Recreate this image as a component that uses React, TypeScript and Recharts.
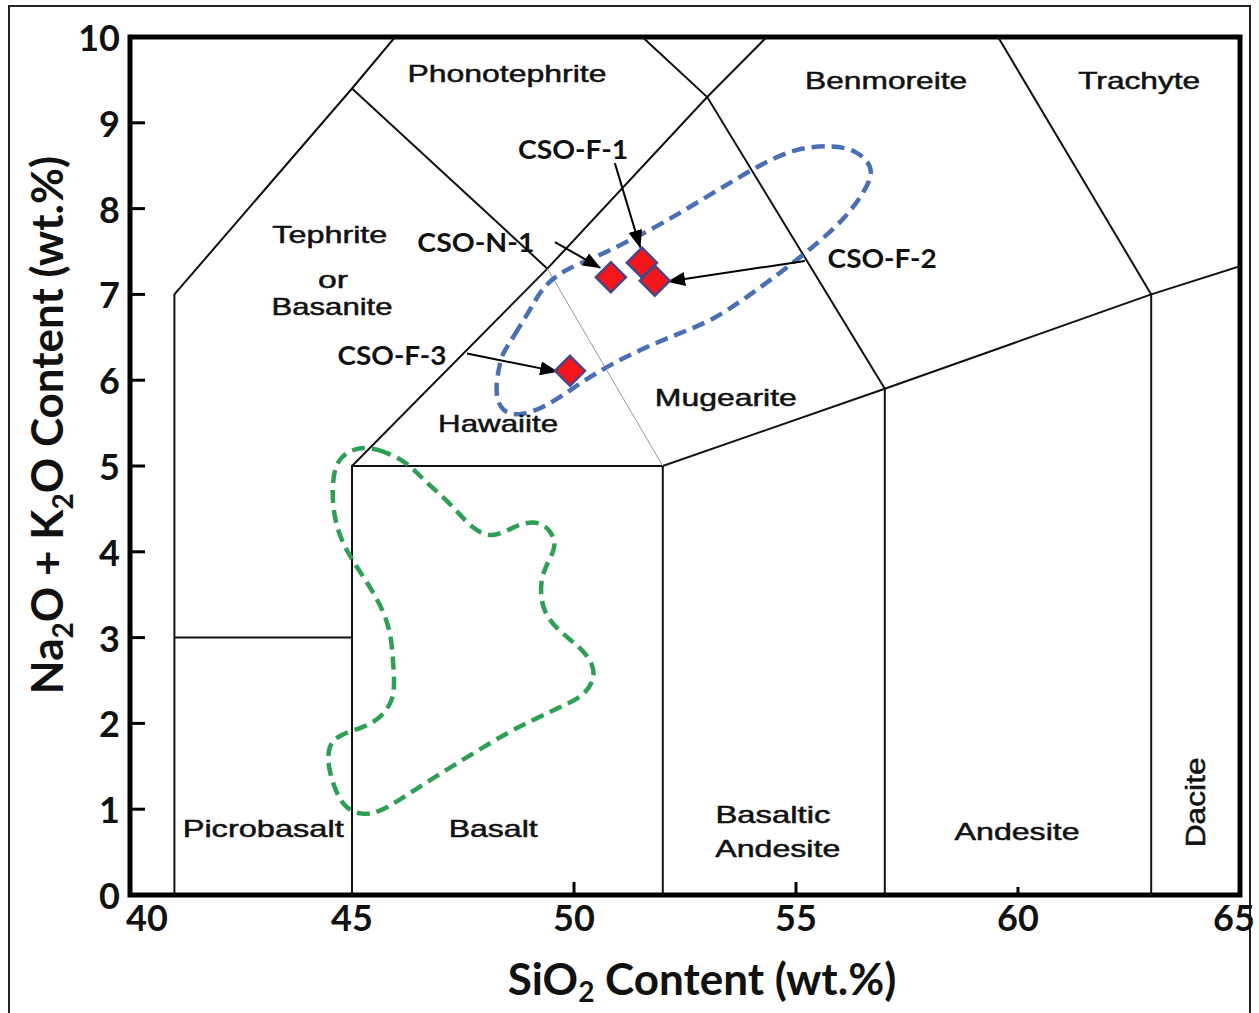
import React from 'react';
import { ComposedChart, XAxis, YAxis, Line, Scatter, ReferenceArea } from 'recharts';

// ---------- axes ----------
const xTicks = [40, 45, 50, 55, 60, 65];
const yTicks = [0, 1, 2, 3, 4, 5, 6, 7, 8, 9, 10];

// ---------- TAS field boundaries (SiO2 wt.%, Na2O+K2O wt.%) ----------
const bndPicroTephrite = [{ x: 41, y: 0 }, { x: 41, y: 7 }, { x: 45, y: 9.4 }, { x: 45.97, y: 10 }];
const bndPicroShelf = [{ x: 41, y: 3 }, { x: 45, y: 3 }];
const bndBasaltTop = [{ x: 45, y: 0 }, { x: 45, y: 5 }, { x: 52, y: 5 }, { x: 57, y: 5.9 }, { x: 63, y: 7 }, { x: 65, y: 7.33 }];
const bndBasaltRight = [{ x: 52, y: 0 }, { x: 52, y: 5 }];
const bndAndesiteRight = [{ x: 57, y: 0 }, { x: 57, y: 5.9 }];
const bndDaciteLeft = [{ x: 63, y: 0 }, { x: 63, y: 7 }];
const bndAlkaline = [{ x: 45, y: 5 }, { x: 49.4, y: 7.3 }, { x: 53, y: 9.3 }, { x: 54.34, y: 10 }];
const bndPhonotephrite = [{ x: 45, y: 9.4 }, { x: 49.4, y: 7.3 }];
const bndHawaiite = [{ x: 49.4, y: 7.3 }, { x: 52, y: 5 }];
const bndBenmoreite = [{ x: 51.54, y: 10 }, { x: 53, y: 9.3 }, { x: 57, y: 5.9 }];
const bndTrachyte = [{ x: 59.55, y: 10 }, { x: 63, y: 7 }];

// ---------- dashed compositional fields ----------
const blueField = [
  { x: 48.40, y: 6.32 }, { x: 48.63, y: 6.50 }, { x: 49.01, y: 6.82 }, { x: 49.30, y: 7.09 },
  { x: 49.75, y: 7.28 }, { x: 50.52, y: 7.44 }, { x: 51.26, y: 7.63 }, { x: 52.00, y: 7.83 },
  { x: 52.77, y: 8.07 }, { x: 53.51, y: 8.30 }, { x: 54.26, y: 8.53 }, { x: 55.02, y: 8.71 },
  { x: 55.83, y: 8.74 }, { x: 56.37, y: 8.68 }, { x: 56.73, y: 8.49 }, { x: 56.67, y: 8.30 },
  { x: 56.15, y: 7.90 }, { x: 55.38, y: 7.55 }, { x: 54.64, y: 7.25 }, { x: 53.90, y: 6.97 },
  { x: 53.13, y: 6.70 }, { x: 52.39, y: 6.55 }, { x: 51.64, y: 6.39 }, { x: 50.88, y: 6.20 },
  { x: 50.14, y: 5.97 }, { x: 49.39, y: 5.69 }, { x: 48.72, y: 5.57 }, { x: 48.33, y: 5.65 },
  { x: 48.22, y: 5.89 }, { x: 48.33, y: 6.20 },
];
const greenField = [
  { x: 45.11, y: 5.22 }, { x: 45.56, y: 5.21 }, { x: 46.24, y: 5.05 }, { x: 46.60, y: 4.84 },
  { x: 47.21, y: 4.57 }, { x: 47.73, y: 4.25 }, { x: 48.18, y: 4.16 }, { x: 48.63, y: 4.29 },
  { x: 49.08, y: 4.37 }, { x: 49.46, y: 4.28 }, { x: 49.62, y: 4.06 }, { x: 49.39, y: 3.87 },
  { x: 49.23, y: 3.64 }, { x: 49.28, y: 3.32 }, { x: 49.62, y: 3.09 }, { x: 50.14, y: 2.89 },
  { x: 50.43, y: 2.70 }, { x: 50.47, y: 2.51 }, { x: 50.20, y: 2.31 }, { x: 49.68, y: 2.19 },
  { x: 49.08, y: 2.04 }, { x: 48.49, y: 1.89 }, { x: 47.66, y: 1.63 }, { x: 46.76, y: 1.34 },
  { x: 46.08, y: 1.11 }, { x: 45.59, y: 0.96 }, { x: 45.23, y: 0.93 }, { x: 44.84, y: 1.01 },
  { x: 44.62, y: 1.22 }, { x: 44.46, y: 1.49 }, { x: 44.46, y: 1.75 }, { x: 44.73, y: 1.87 },
  { x: 45.23, y: 1.95 }, { x: 45.59, y: 2.04 }, { x: 45.86, y: 2.21 }, { x: 45.97, y: 2.39 },
  { x: 45.92, y: 2.77 }, { x: 45.86, y: 3.12 }, { x: 45.56, y: 3.47 }, { x: 45.11, y: 3.82 },
  { x: 44.73, y: 4.14 }, { x: 44.55, y: 4.52 }, { x: 44.57, y: 4.92 }, { x: 44.73, y: 5.11 },
];

// ---------- samples ----------
const sampleNames = ['CSO-N-1', 'CSO-F-1', 'CSO-F-2', 'CSO-F-3'];
const sampleSiO2 = [50.83, 51.53, 51.82, 49.91];
const sampleAlkali = [7.20, 7.37, 7.16, 6.11];
const samples = sampleNames.map((n, i) => ({ name: n, x: sampleSiO2[i], y: sampleAlkali[i] }));

// sample label anchors (SiO2, alkali) and arrows (from label to sample)
const sampleLabelX = [47.79, 49.98, 56.94, 45.90];
const sampleLabelY = [7.49, 8.58, 7.31, 6.18];
const sampleLabels = sampleNames.map((n, i) => ({ text: n, x: sampleLabelX[i], y: sampleLabelY[i] }));
const arrowN1 = [{ x: 49.57, y: 7.61 }, { x: 50.59, y: 7.31 }];
const arrowF1 = [{ x: 50.92, y: 8.53 }, { x: 51.49, y: 7.55 }];
const arrowF2 = [{ x: 55.20, y: 7.39 }, { x: 52.12, y: 7.15 }];
const arrowF3 = [{ x: 47.59, y: 6.31 }, { x: 49.62, y: 6.10 }];

// ---------- field names ----------
const fieldNames = ['Phonotephrite', 'Benmoreite', 'Trachyte', 'Tephrite', 'or', 'Basanite', 'Hawaiite',
  'Mugearite', 'Picrobasalt', 'Basalt', 'Basaltic', 'Andesite', 'Andesite', 'Dacite'];
const fieldX = [48.49, 57.03, 62.73, 44.50, 44.57, 44.55, 48.29, 53.42, 43.00, 48.18, 54.48, 54.59, 59.98, 64.01];
const fieldY = [9.48, 9.39, 9.39, 7.60, 7.08, 6.76, 5.40, 5.70, 0.68, 0.68, 0.84, 0.44, 0.64, 1.08];
const fieldLabels = fieldNames.map((t, i) => ({ text: t, x: fieldX[i], y: fieldY[i], idx: i }));

// text widths (px) to mimic the stretched lettering of the original
const fieldWidths = [199, 162, 122, 115, 30, 121, 120, 142, 161, 89, 115, 125, 125, 90];
const sampleWidths = [117, 110, 109, 109];

const NUM_FONT = 'Lato, "Open Sans", sans-serif';
const REGION_FONT = '"Liberation Sans", Arial, sans-serif';

const YTick = (props: any) => {
  const { x, y, payload } = props;
  const v = payload.value;
  return (
    <g>
      {v > 0 && v < 10 && <line x1={x} x2={x + 15} y1={y} y2={y} stroke="#000" strokeWidth={3} />}
      <text x={x - 10} y={y} textAnchor="end" dominantBaseline="central" fontFamily={NUM_FONT}
        fontWeight={700} fontSize={36} fill="#111">{v}</text>
    </g>
  );
};

const XTick = (props: any) => {
  const { x, y, payload } = props;
  const v = payload.value;
  const inner = v === 50 || v === 55 || v === 60;
  const shift = v === 40 ? 17 : v === 65 ? -6 : 0;
  return (
    <g>
      {inner && <line x1={x} x2={x} y1={y} y2={y - (v === 60 ? 8 : 13)} stroke="#000" strokeWidth={3} />}
      <text x={x + shift} y={y + 36} textAnchor="middle" fontFamily={NUM_FONT}
        fontWeight={700} fontSize={36} fill="#111">{v}</text>
    </g>
  );
};

const XTitle = (props: any) => {
  const vb = props.viewBox || { x: 130, y: 895, width: 1110 };
  const cx = vb.x + vb.width / 2 + 17;
  return (
    <text x={cx} y={vb.y + 100} textAnchor="middle" fontFamily={NUM_FONT} fontWeight={700} fontSize={44} fill="#111">
      SiO<tspan fontSize={28} dy={7}>2</tspan><tspan dy={-7}> Content (wt.%)</tspan>
    </text>
  );
};

const YTitle = (props: any) => {
  const vb = props.viewBox || { x: 30, y: 37, width: 100, height: 858 };
  const cx = vb.x + 33;
  const cy = 425;
  return (
    <text x={cx} y={cy} transform={`rotate(-90, ${cx}, ${cy})`} textAnchor="middle" fontFamily={NUM_FONT}
      fontWeight={700} fontSize={44} fill="#111">
      Na<tspan fontSize={28} dy={10}>2</tspan><tspan dy={-10}>O + K</tspan><tspan fontSize={28} dy={10}>2</tspan><tspan dy={-10}>O Content (wt.%)</tspan>
    </text>
  );
};

const FieldLabel = (props: any) => {
  const { cx, cy, payload } = props;
  const w = fieldWidths[payload.idx];
  if (payload.text === 'Dacite') {
    return (
      <text x={cx} y={cy} transform={`rotate(-90, ${cx}, ${cy})`} textAnchor="middle" dominantBaseline="central"
        fontFamily={REGION_FONT} fontSize={27} fill="#111" stroke="#111" strokeWidth={0.5}
        textLength={w} lengthAdjust="spacingAndGlyphs">{payload.text}</text>
    );
  }
  return (
    <text x={cx} y={cy} textAnchor="middle" fontFamily={REGION_FONT} fontSize={24} fill="#111"
      stroke="#111" strokeWidth={0.5} textLength={w} lengthAdjust="spacingAndGlyphs">{payload.text}</text>
  );
};

const SampleLabel = (props: any) => {
  const { cx, cy, payload, index } = props;
  const i = sampleNames.indexOf(payload.text);
  return (
    <text x={cx} y={cy} textAnchor="middle" fontFamily={NUM_FONT} fontWeight={700} fontSize={27} fill="#111"
      textLength={sampleWidths[i >= 0 ? i : index]} lengthAdjust="spacingAndGlyphs">{payload.text}</text>
  );
};

const Diamond = (props: any) => {
  const { cx, cy } = props;
  const r = 15;
  return (
    <polygon points={`${cx},${cy - r} ${cx + r},${cy} ${cx},${cy + r} ${cx - r},${cy}`}
      fill="#f5161c" stroke="#4a4585" strokeWidth={2.5} />
  );
};

const boundaryLines = [
  bndPicroTephrite, bndPicroShelf, bndBasaltTop, bndBasaltRight, bndAndesiteRight,
  bndDaciteLeft, bndAlkaline, bndPhonotephrite, bndBenmoreite, bndTrachyte,
];
const arrows = [arrowN1, arrowF1, arrowF2, arrowF3];

export default function App() {
  return (
    <div style={{ position: 'absolute', left: 0, top: 0, width: 1259, height: 1013, background: '#fff', overflow: 'hidden' }}>
      <div style={{ position: 'absolute', left: 8, top: 5, width: 1243, height: 1040, border: '2px solid #222', boxSizing: 'border-box' }} />
      <div style={{ position: 'absolute', left: 0, top: 0 }}>
        <ComposedChart width={1259} height={1013} margin={{ top: 37, right: 19, bottom: 58, left: 30 }}>
          <defs>
            <marker id="arrowHead" markerUnits="userSpaceOnUse" markerWidth={18} markerHeight={14}
              refX={17} refY={7} orient="auto">
              <path d="M0,0 L18,7 L0,14 z" fill="#000" />
            </marker>
          </defs>
          <XAxis type="number" dataKey="x" domain={[40, 65]} ticks={xTicks} allowDataOverflow height={60}
            axisLine={false} tickLine={false} tickSize={0} tickMargin={0} tick={<XTick />} interval={0}
            label={<XTitle />} />
          <YAxis type="number" dataKey="y" domain={[0, 10]} ticks={yTicks} allowDataOverflow width={100}
            axisLine={false} tickLine={false} tickSize={0} tickMargin={0} tick={<YTick />} interval={0}
            label={<YTitle />} />
          <ReferenceArea x1={40} x2={65} y1={0} y2={10} fill="none" stroke="#000" strokeWidth={5} ifOverflow="visible" />
          {boundaryLines.map((d, i) => (
            <Line key={'b' + i} data={d} dataKey="y" type="linear" stroke="#111" strokeWidth={2}
              dot={false} activeDot={false} isAnimationActive={false} legendType="none" />
          ))}
          <Line data={bndHawaiite} dataKey="y" type="linear" stroke="#8a9aa8" strokeWidth={1}
            dot={false} activeDot={false} isAnimationActive={false} legendType="none" />
          <Line data={greenField} dataKey="y" type="basisClosed" stroke="#2f9f55" strokeWidth={4.5}
            strokeDasharray="13 7" dot={false} activeDot={false} isAnimationActive={false} legendType="none" />
          <Line data={blueField} dataKey="y" type="basisClosed" stroke="#4a6fb3" strokeWidth={4.5}
            strokeDasharray="13 7" dot={false} activeDot={false} isAnimationActive={false} legendType="none" />
          {arrows.map((d, i) => (
            <Line key={'a' + i} data={d} dataKey="y" type="linear" stroke="#000" strokeWidth={2}
              markerEnd="url(#arrowHead)" dot={false} activeDot={false} isAnimationActive={false} legendType="none" />
          ))}
          <Scatter data={samples} shape={<Diamond />} isAnimationActive={false} legendType="none" />
          <Scatter data={fieldLabels} shape={<FieldLabel />} isAnimationActive={false} legendType="none" />
          <Scatter data={sampleLabels} shape={<SampleLabel />} isAnimationActive={false} legendType="none" />
        </ComposedChart>
      </div>
    </div>
  );
}
